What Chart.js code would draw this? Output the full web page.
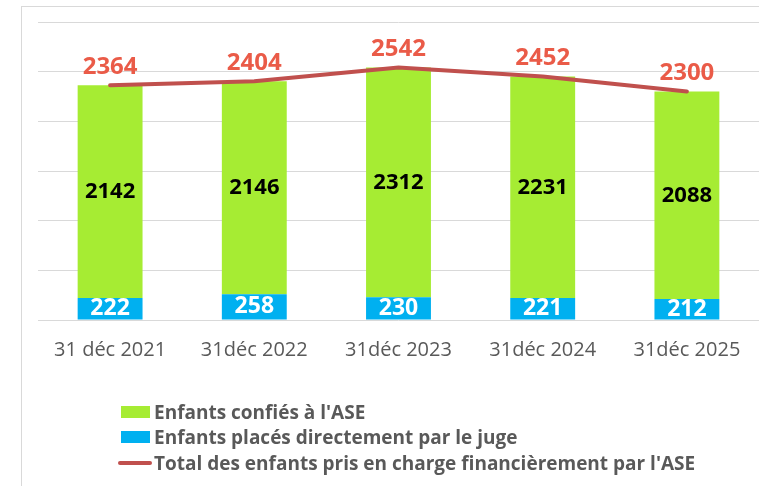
<!DOCTYPE html>
<html>
<head>
<meta charset="utf-8">
<script src="https://cdn.jsdelivr.net/npm/chart.js@4/dist/chart.umd.min.js"></script>
<style>
  html, body { margin: 0; padding: 0; background: #fff; }
  #wrap { position: relative; width: 759px; height: 486px; overflow: hidden; }
  #frame { position: absolute; left: 21px; top: 6px; width: 800px; height: 600px;
           border-left: 1px solid #D9D9D9; border-top: 1px solid #D9D9D9; }
  canvas { position: absolute; left: 0; top: 0; }
  #legend { position: absolute; left: 118px; top: 399px; font-family: "Open Sans", sans-serif;
            font-weight: bold; font-size: 19px; color: #595959; }
  .item { height: 25.5px; display: flex; align-items: center; white-space: nowrap; }
  .sw { display: inline-block; margin-right: 4px; }
</style>
</head>
<body>
<div id="wrap">
  <div id="frame"></div>
  <canvas id="c" width="759" height="486"></canvas>
  <div id="legend"></div>
</div>
<script>
const categories = ["31 déc 2021", "31déc 2022", "31déc 2023", "31déc 2024", "31déc 2025"];
const confiesASE = [2142, 2146, 2312, 2231, 2088];
const placesJuge = [222, 258, 230, 221, 212];
const totalASE = [2364, 2404, 2542, 2452, 2300];
const seriesNames = ["Enfants confiés à l'ASE", "Enfants placés directement par le juge", "Total des enfants pris en charge financièrement par l'ASE"];

const GREEN = "#A6EC33", BLUE = "#00B0F0", RED = "#C0504D", LABELRED = "#EA5B48";

const labelPlugin = {
  id: 'valueLabels',
  afterDatasetsDraw(chart) {
    const ctx = chart.ctx;
    ctx.save();
    ctx.textAlign = 'center';
    ctx.textBaseline = 'middle';
    chart.data.datasets.forEach((ds, i) => {
      const meta = chart.getDatasetMeta(i);
      meta.data.forEach((el, j) => {
        const v = ds.data[j];
        if (ds.type === 'line') {
          ctx.font = 'bold 24px "Open Sans", sans-serif';
          ctx.fillStyle = LABELRED;
          ctx.fillText(String(v), el.x, el.y - 18);
        } else {
          const cy = (el.y + el.base) / 2;
          if (ds.key === 'juge') {
            ctx.font = 'bold 23px "Open Sans", sans-serif';
            ctx.fillStyle = '#FFFFFF';
            ctx.fillText(String(v), el.x, cy);
          } else {
            ctx.font = 'bold 22px "Open Sans", sans-serif';
            ctx.fillStyle = '#000000';
            ctx.fillText(String(v), el.x, cy);
          }
        }
      });
    });
    ctx.restore();
  }
};

const chart = new Chart(document.getElementById('c'), {
  type: 'bar',
  data: {
    labels: categories,
    datasets: [
      { type: 'line', label: seriesNames[2], data: totalASE, borderColor: RED, backgroundColor: RED,
        borderWidth: 4, pointRadius: 0, tension: 0, stack: 'total', order: 0, borderCapStyle: 'round' },
      { key: 'juge', label: seriesNames[1], data: placesJuge, backgroundColor: BLUE, stack: 'bars', order: 1 },
      { key: 'ase', label: seriesNames[0], data: confiesASE, backgroundColor: GREEN, stack: 'bars', order: 1 }
    ]
  },
  options: {
    responsive: false,
    animation: false,
    devicePixelRatio: 1,
    layout: { padding: { left: 38, top: 22, right: 0, bottom: 126 } },
    plugins: { legend: { display: false }, tooltip: { enabled: false } },
    datasets: { bar: { barPercentage: 0.45, categoryPercentage: 1 } },
    scales: {
      x: {
        stacked: true,
        grid: { display: false, drawTicks: false },
        border: { display: false },
        ticks: { color: '#595959', font: { family: '"Open Sans", sans-serif', size: 20 }, padding: 18, maxRotation: 0 },
        afterFit(s) { s.height = 40; }
      },
      y: {
        stacked: true,
        min: 0, max: 3000,
        grid: { color: '#D9D9D9', lineWidth: 1, drawTicks: false },
        border: { display: false },
        ticks: { display: false, stepSize: 500 },
        afterFit(s) { s.width = 0; }
      }
    }
  },
  plugins: [labelPlugin]
});

// HTML legend built from dataset definitions
const legend = document.getElementById('legend');
const order = [2, 1, 0];
order.forEach(i => {
  const ds = chart.data.datasets[i];
  const row = document.createElement('div');
  row.className = 'item';
  const sw = document.createElement('span');
  sw.className = 'sw';
  if (ds.type === 'line') {
    sw.style.cssText = 'width:34px;height:4px;border-radius:2px;background:' + ds.borderColor + ';margin-left:0;margin-right:2px;';
  } else {
    sw.style.cssText = 'width:29px;height:12px;background:' + ds.backgroundColor + ';margin-left:3px;';
  }
  row.appendChild(sw);
  const t = document.createElement('span');
  t.textContent = ds.label;
  row.appendChild(t);
  legend.appendChild(row);
});
</script>
</body>
</html>
